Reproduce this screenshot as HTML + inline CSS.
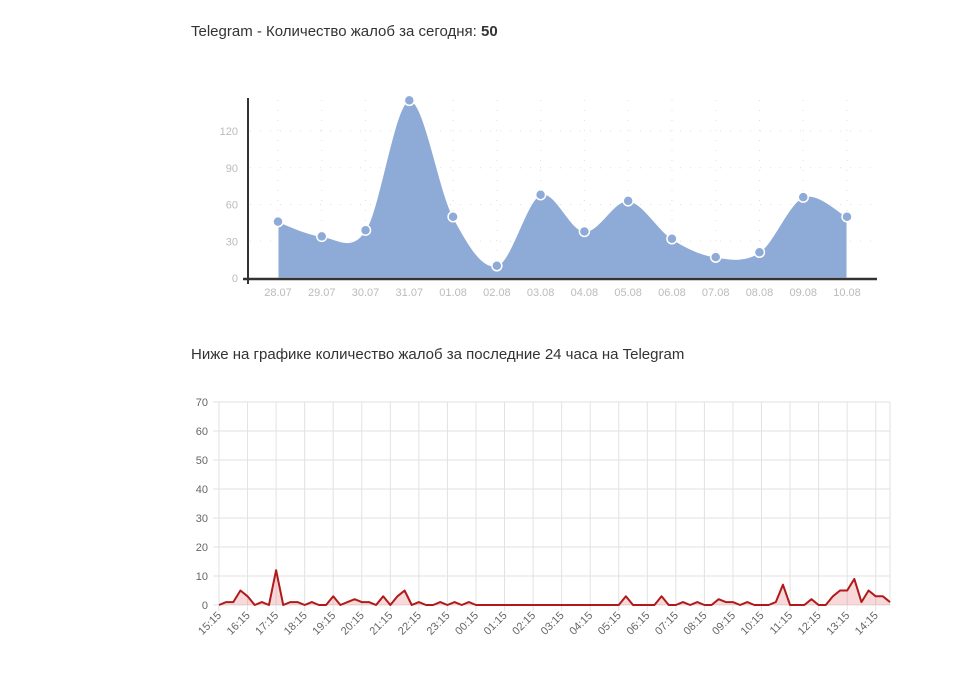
<!DOCTYPE html>
<html><head><meta charset="utf-8"><style>
body{margin:0;background:#fff;width:960px;height:676px;overflow:hidden;font-family:"Liberation Sans",sans-serif}
.t{position:absolute;left:191px;font-size:15px;color:#333}
</style></head><body>
<div class="t" style="top:23px">Telegram - Количество жалоб за сегодня: <b>50</b></div>
<div class="t" style="top:346px">Ниже на графике количество жалоб за последние 24 часа на Telegram</div>
<svg id="c1" width="960" height="676" style="position:absolute;left:0;top:0"></svg>
<script>
const days=["28.07","29.07","30.07","31.07","01.08","02.08","03.08","04.08","05.08","06.08","07.08","08.08","09.08","10.08"];
const dayVals=[46,34,39,145,50,10,68,38,63,32,17,21,66,50];
const yTicks1=[0,30,60,90,120];
const hourLabels=["15:15","16:15","17:15","18:15","19:15","20:15","21:15","22:15","23:15","00:15","01:15","02:15","03:15","04:15","05:15","06:15","07:15","08:15","09:15","10:15","11:15","12:15","13:15","14:15"];
const hourVals=[0,1,1,5,3,0,1,0,12,0,1,1,0,1,0,0,3,0,1,2,1,1,0,3,0,3,5,0,1,0,0,1,0,1,0,1,0,0,0,0,0,0,0,0,0,0,0,0,0,0,0,0,0,0,0,0,0,3,0,0,0,0,3,0,0,1,0,1,0,0,2,1,1,0,1,0,0,0,1,7,0,0,0,2,0,0,3,5,5,9,1,5,3,3,1];
const yTicks2=[0,10,20,30,40,50,60,70];
const NS="http://www.w3.org/2000/svg",svg=document.getElementById('c1');
function mk(t,a,p){const e=document.createElementNS(NS,t);for(const k in a)e.setAttribute(k,a[k]);(p||svg).appendChild(e);return e;}
// chart 1
const x1=i=>278+i*(847-278)/(days.length-1), y1=v=>278-v*(278-131)/120;
const g1=mk('g',{});


yTicks1.forEach(v=>{if(v>0)mk('line',{x1:250,x2:877,y1:y1(v),y2:y1(v),stroke:'#ddd','stroke-dasharray':'1 9'},g1);
 const t=mk('text',{x:238,y:y1(v)+4,'text-anchor':'end','font-size':11,fill:'#bbb'},g1);t.textContent=v;
 });
days.forEach((d,i)=>{mk('line',{x1:x1(i),x2:x1(i),y1:100,y2:278,stroke:'#ddd','stroke-dasharray':'1 9'},g1);
 const t=mk('text',{x:x1(i),y:296,'text-anchor':'middle','font-size':11,fill:'#bbb'},g1);t.textContent=d;
 });
const pts=dayVals.map((v,i)=>[x1(i),y1(v)]);
let d='M'+pts[0];
for(let i=0;i<pts.length-1;i++){const p0=pts[Math.max(0,i-1)],p1=pts[i],p2=pts[i+1],p3=pts[Math.min(pts.length-1,i+2)];
 d+=` C${p1[0]+(p2[0]-p0[0])/6},${p1[1]+(p2[1]-p0[1])/6} ${p2[0]-(p3[0]-p1[0])/6},${p2[1]-(p3[1]-p1[1])/6} ${p2[0]},${p2[1]}`;}
const area=mk('path',{d:d+` L${x1(days.length-1)},278 L${x1(0)},278 Z`,fill:'#8eaad6',stroke:'#fff','stroke-width':1},g1);

pts.forEach(p=>{const c=mk('circle',{cx:p[0],cy:p[1],r:5,fill:'#8eaad6',stroke:'#fff','stroke-width':1.5},g1);
 });
mk('line',{x1:248,x2:248,y1:98,y2:284,stroke:'#333','stroke-width':2},g1);
mk('line',{x1:243,x2:877,y1:279,y2:279,stroke:'#333','stroke-width':2.5},g1);
// chart 2
const n=hourVals.length,x2=i=>219+i*(890-219)/(n-1),y2=v=>605-v*(605-402)/70;
const g2=mk('g',{});


yTicks2.forEach(v=>{mk('line',{x1:213,x2:890,y1:y2(v),y2:y2(v),stroke:'#e2e2e2'},g2);
 const t=mk('text',{x:208,y:y2(v)+4,'text-anchor':'end','font-size':11,fill:'#666'},g2);t.textContent=v;
 });
hourLabels.forEach((h,k)=>{const x=x2(k*4);mk('line',{x1:x,x2:x,y1:402,y2:611,stroke:'#e2e2e2'},g2);
 const t=mk('text',{x:x+3,y:616,'text-anchor':'end','font-size':11,fill:'#666',transform:`rotate(-45 ${x+3} 616)`},g2);t.textContent=h;
 });
mk('line',{x1:890,x2:890,y1:402,y2:605,stroke:'#e2e2e2'},g2);
const lp=hourVals.map((v,i)=>x2(i)+','+y2(v)).join(' L');
const a2=mk('path',{d:'M'+lp+` L${x2(n-1)},605 L${x2(0)},605 Z`,fill:'rgba(220,60,60,0.2)'},g2);

const l2=mk('path',{d:'M'+lp,fill:'none',stroke:'#b01a1a','stroke-width':2,'stroke-linejoin':'round'},g2);

</script>
</body></html>
